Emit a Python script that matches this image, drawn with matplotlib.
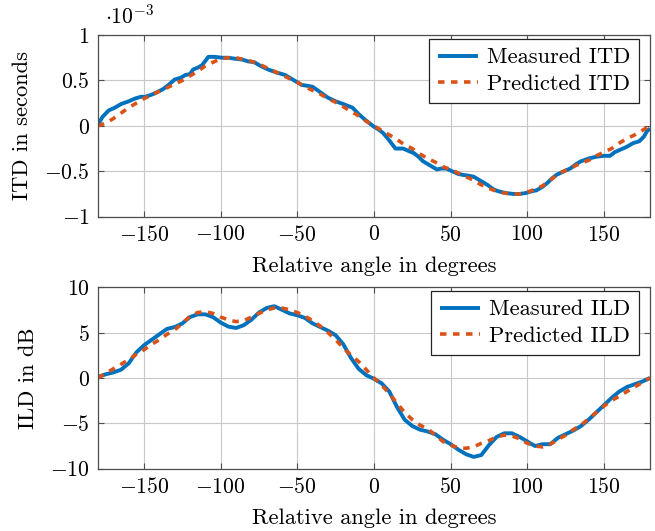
import matplotlib
matplotlib.use("Agg")
import matplotlib.pyplot as plt
from matplotlib.ticker import FuncFormatter, FixedLocator

plt.rcParams['font.family'] = ['cmr10', 'DejaVu Serif']
plt.rcParams['mathtext.fontset'] = 'cm'
plt.rcParams['axes.formatter.use_mathtext'] = True
plt.rcParams['axes.unicode_minus'] = True

# ---------------- data ----------------
itd_meas_x = [-180, -177, -173, -169, -165, -160, -156, -152, -149, -144, -138, -134, -130, -126,
              -123, -120, -118, -115, -112, -108, -104, -99, -95, -91, -86, -82, -78, -74, -69,
              -64, -58, -53, -47, -43, -40, -35, -30, -25, -20, -17, -14, -10, -6, -3, 0,
              3, 6, 10, 14, 19, 23, 26, 29, 32, 36, 41, 44, 47, 51, 55, 58, 62, 65, 69, 74, 78,
              81, 86, 91, 95, 99, 103, 106, 110, 113, 116, 119, 124, 128, 132, 135, 140, 145,
              150, 154, 157, 161, 165, 169, 173, 176, 178, 180]
itd_meas_y = [0.01, 0.10, 0.17, 0.20, 0.24, 0.27, 0.30, 0.32, 0.32, 0.35, 0.40, 0.45, 0.51, 0.53,
              0.56, 0.57, 0.62, 0.64, 0.67, 0.76, 0.76, 0.75, 0.75, 0.74, 0.73, 0.71, 0.70, 0.66,
              0.62, 0.59, 0.56, 0.51, 0.45, 0.44, 0.43, 0.37, 0.31, 0.27, 0.24, 0.22, 0.20, 0.13,
              0.07, 0.03, -0.01,
              -0.04, -0.08, -0.16, -0.25, -0.25, -0.28, -0.30, -0.34, -0.39, -0.43, -0.48, -0.47,
              -0.47, -0.50, -0.53, -0.54, -0.55, -0.56, -0.60, -0.65, -0.70, -0.72, -0.74, -0.75,
              -0.75, -0.74, -0.72, -0.71, -0.67, -0.63, -0.58, -0.54, -0.50, -0.47, -0.42, -0.39,
              -0.36, -0.34, -0.33, -0.33, -0.29, -0.26, -0.23, -0.19, -0.17, -0.12, -0.06, -0.03]

grid_x = list(range(-180, 181, 5))
itd_pred_y = [0.0, 0.03, 0.08, 0.14, 0.20, 0.25, 0.30, 0.34, 0.38, 0.42, 0.46, 0.50, 0.55, 0.60,
              0.66, 0.70, 0.74, 0.75, 0.75, 0.73, 0.71, 0.68, 0.64, 0.60, 0.56, 0.52, 0.48, 0.43,
              0.39, 0.35, 0.30, 0.26, 0.21, 0.16, 0.11, 0.05, 0.0,
              -0.05, -0.10, -0.15, -0.21, -0.25, -0.31, -0.36, -0.40, -0.45, -0.48, -0.52, -0.56,
              -0.60, -0.65, -0.69, -0.72, -0.74, -0.75, -0.75, -0.73, -0.70, -0.66, -0.60, -0.53,
              -0.49, -0.45, -0.41, -0.38, -0.33, -0.29, -0.25, -0.19, -0.14, -0.10, -0.05, 0.0]

ild_meas_y = [0.1, 0.4, 0.6, 0.9, 1.6, 2.8, 3.6, 4.2, 4.8, 5.4, 5.6, 6.0, 6.7, 7.0, 7.0, 6.7, 6.1,
              5.65, 5.5, 5.8, 6.4, 7.2, 7.7, 7.9, 7.5, 7.1, 6.9, 6.6, 6.0, 5.6, 5.2, 4.7, 3.7, 2.2,
              1.0, 0.3, -0.1,
              -0.6, -1.5, -3.2, -4.6, -5.3, -5.7, -5.9, -6.2, -6.8, -7.3, -7.9, -8.4, -8.7, -8.5,
              -7.4, -6.5, -6.1, -6.1, -6.5, -7.0, -7.5, -7.3, -7.3, -6.6, -6.2, -5.8, -5.3, -4.6,
              -3.8, -3.0, -2.2, -1.5, -1.0, -0.7, -0.4, 0.0]
ild_pred_y = [0.0, 0.5, 1.0, 1.5, 2.0, 2.6, 3.1, 3.7, 4.2, 4.8, 5.3, 6.0, 6.8, 7.2, 7.3, 7.1, 6.7,
              6.4, 6.2, 6.3, 6.7, 7.1, 7.5, 7.7, 7.7, 7.5, 7.2, 6.8, 6.3, 5.7, 5.0, 4.2, 3.3, 2.5,
              1.8, 0.9, 0.0,
              -0.8, -1.7, -2.8, -3.8, -4.6, -5.2, -5.6, -6.3, -7.0, -7.4, -7.7, -7.75, -7.6, -7.2,
              -6.9, -6.5, -6.3, -6.4, -6.7, -7.2, -7.5, -7.6, -7.3, -6.8, -6.3, -5.7, -5.2, -4.5,
              -3.8, -3.1, -2.5, -2.0, -1.5, -1.0, -0.5, 0.0]

x_ticks = [-150, -100, -50, 0, 50, 100, 150]
itd_ticks = [-1, -0.5, 0, 0.5, 1]
ild_ticks = [-10, -5, 0, 5, 10]

BLUE = '#0072BD'
ORANGE = '#D95319'
FS_TICK = 15.6
FS = 16.2
DASH = (0, (1.8, 1.8))

fig = plt.figure(figsize=(6.55, 5.31), dpi=100)
ax1 = fig.add_axes([0.1496, 0.592, 0.8427, 0.342])
ax2 = fig.add_axes([0.1496, 0.1173, 0.8427, 0.342])

fmt = FuncFormatter(lambda v, p: r'$%g$' % v)


def style(ax, yticks, ylim, ylabel):
    ax.set_xlim(-180, 180)
    ax.set_ylim(*ylim)
    ax.xaxis.set_major_locator(FixedLocator(x_ticks))
    ax.yaxis.set_major_locator(FixedLocator(yticks))
    ax.xaxis.set_major_formatter(fmt)
    ax.yaxis.set_major_formatter(fmt)
    ax.grid(True, color='#c8c8c8', linewidth=0.8)
    ax.set_axisbelow(True)
    for s in ax.spines.values():
        s.set_color('#4d4d4d')
        s.set_linewidth(0.9)
    ax.tick_params(direction='in', length=4, width=0.8, color='#4d4d4d',
                   top=True, right=True, labelsize=FS_TICK, pad=6)
    ax.set_xlabel('Relative angle in degrees', fontsize=FS, labelpad=8)
    ax.set_ylabel(ylabel, fontsize=FS, labelpad=9)


style(ax1, itd_ticks, (-1, 1), 'ITD in seconds')
style(ax2, ild_ticks, (-10, 10), 'ILD in dB')

ax1.plot(itd_meas_x, itd_meas_y, color=BLUE, lw=2.8, label='Measured ITD', solid_capstyle='butt')
ax1.plot(grid_x, itd_pred_y, color=ORANGE, lw=2.6, ls=DASH, label='Predicted ITD')
ax2.plot(grid_x, ild_meas_y, color=BLUE, lw=2.8, label='Measured ILD', solid_capstyle='butt')
ax2.plot(grid_x, ild_pred_y, color=ORANGE, lw=2.6, ls=DASH, label='Predicted ILD')

for ax in (ax1, ax2):
    leg = ax.legend(loc='upper right', bbox_to_anchor=(0.98, 0.98), fontsize=FS,
                    frameon=True, fancybox=False, edgecolor='#222222', framealpha=1,
                    borderaxespad=0.0, handlelength=1.75, borderpad=0.4,
                    labelspacing=0.3, handletextpad=0.4)
    leg.get_frame().set_linewidth(0.9)

fig.text(0.1603, 0.955, r'$\cdot 10^{-3}$', fontsize=FS_TICK, ha='left', va='baseline')

fig.savefig('out.png', dpi=100)
